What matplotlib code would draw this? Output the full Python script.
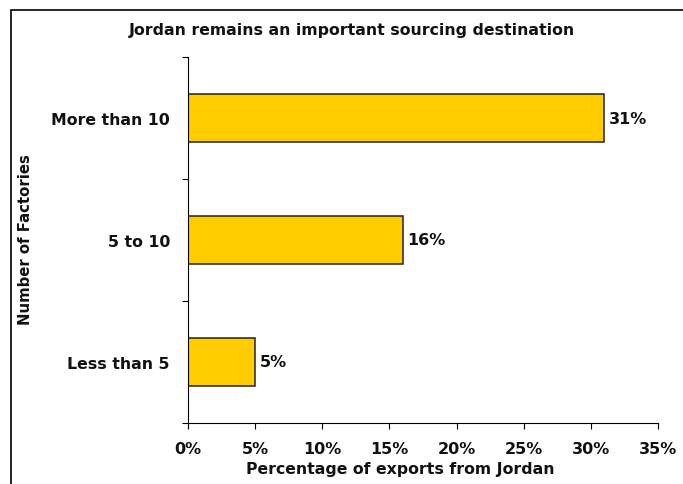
import numpy as np
import matplotlib.pyplot as plt
from matplotlib.patches import Rectangle

# share of exports from Jordan by number of factories
categories = ["Less than 5", "5 to 10", "More than 10"]
shares = [5, 16, 31]
xticks = [0, 5, 10, 15, 20, 25, 30, 35]

plt.rcParams['font.family'] = 'DejaVu Sans'
plt.rcParams['font.weight'] = 'bold'

fig = plt.figure(figsize=(6.83, 4.85), dpi=100)
ax = fig.add_axes([0.2753, 0.1258, 0.6881, 0.7546])

# outer frame around the chart area
fig.patches.append(Rectangle((11 / 683, -0.1), 1.2, 1 - 11 / 485 + 0.1,
                             transform=fig.transFigure, fill=False,
                             edgecolor='black', linewidth=1.2))

y = np.arange(len(categories))
ax.barh(y, shares, height=0.4, color='#FFCC00', edgecolor='#222222', linewidth=1.1)
for yi, v in zip(y, shares):
    ax.text(v + 0.35, yi, f"{v}%", va='center', ha='left', fontsize=11.5,
            fontweight='bold', color='#111111')

ax.set_xlim(0, 35)
ax.set_ylim(-0.5, 2.5)
ax.set_xticks(xticks)
ax.set_xticklabels([f"{t}%" for t in xticks], fontsize=11.5, fontweight='bold', color='#111111')
ax.set_yticks(y)
ax.set_yticklabels(categories, fontsize=11.3, fontweight='bold', color='#111111')
ax.set_yticks([-0.5, 0.5, 1.5, 2.5], minor=True)
ax.tick_params(axis='y', which='major', length=0, pad=13)
ax.tick_params(axis='y', which='minor', length=4, width=0.8)
ax.tick_params(axis='x', length=4, width=0.8, pad=9)
for side in ['top', 'right']:
    ax.spines[side].set_visible(False)
ax.spines['left'].set_linewidth(0.8)
ax.spines['bottom'].set_linewidth(0.8)

fig.text(400 / 683, 1 - 470 / 485, "Percentage of exports from Jordan",
         ha='center', va='center', fontsize=11.3, fontweight='bold', color='#111111')
fig.text(26 / 683, 1 - 240 / 485, "Number of Factories", rotation=90, ha='center', va='center',
         fontsize=10.7, fontweight='bold', color='#111111')
fig.text(352 / 683, 1 - 31 / 485, "Jordan remains an important sourcing destination",
         ha='center', va='center', fontsize=11.3, fontweight='bold', color='#111111')

fig.savefig('out.png', dpi=100)
